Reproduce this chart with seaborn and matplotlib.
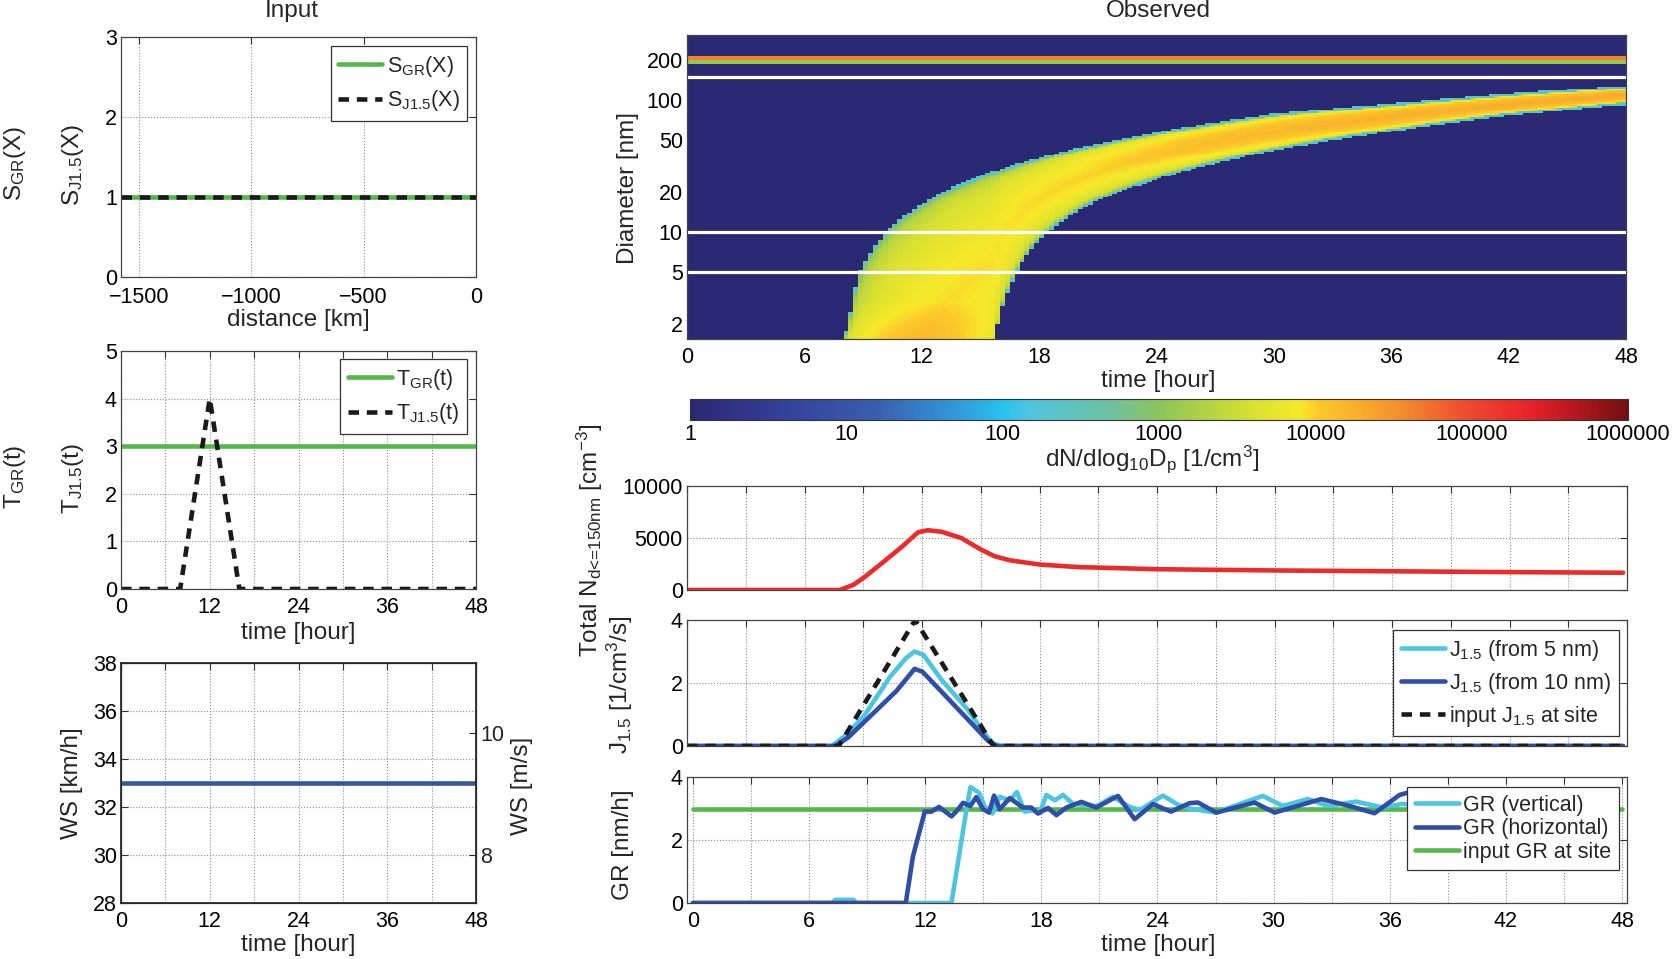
import numpy as np
import matplotlib
matplotlib.use('Agg')
import matplotlib.pyplot as plt
import seaborn as sns
from matplotlib.colors import LinearSegmentedColormap, LogNorm
from matplotlib.ticker import LogLocator, NullFormatter

# ---------------- values ----------------
# Input panels
dist_km = [-1580, 0]
s_gr = [1, 1]
s_j15 = [1, 1]

tj_hours = [0, 8, 12, 16, 48]
tj_vals = [0, 0, 4, 0, 0]
tgr_hours = [0, 48]
tgr_vals = [3, 3]

ws_hours = [0, 48]
ws_kmh = [33, 33]

# Observed: total number (d <= 150 nm)
totn_t = [0, 7.8, 8.5, 9.0, 10.0, 11.0, 11.8, 12.3, 13.0, 14.0, 15.0, 15.7,
          16.5, 18.0, 20.0, 24.0, 30.0, 36.0, 42.0, 47.8]
totn = [0, 0, 500, 1150, 2650, 4200, 5550, 5750, 5600, 5000, 3900, 3250,
        2850, 2450, 2200, 2000, 1880, 1800, 1720, 1660]

# Observed: J1.5
jin_t = [0, 7.75, 11.65, 15.65, 47.8]
jin = [0, 0, 4, 0, 0]
j5_t = [0, 7.4, 8.07, 9.05, 10.37, 11.2, 11.62, 12.08, 13.0, 14.3, 15.15, 15.57, 15.97, 47.8]
j5 = [0, 0, 0.32, 0.96, 2.2, 2.8, 3.0, 2.89, 2.1, 1.18, 0.43, 0.11, 0, 0]
j10_t = [0, 7.57, 8.23, 9.38, 10.7, 11.62, 12.02, 13.34, 14.65, 15.38, 15.8, 47.8]
j10 = [0, 0, 0.27, 0.96, 1.75, 2.45, 2.36, 1.5, 0.64, 0.16, 0, 0]

# Observed: growth rates
grv_t = [0, 7.2, 7.35, 8.3, 8.45, 13.36, 14.13, 14.34, 14.78, 15.07, 15.47, 15.85,
         16.37, 16.74, 17.14, 17.66, 17.92, 18.26, 18.7, 19.12, 19.63, 20.84, 21.7,
         22.56, 23.08, 24.28, 25.06, 25.66, 27.0, 29.44, 30.47, 31.77, 32.8, 34.26,
         35.64, 36.67, 37.2]
grv = [0, 0, 0.1, 0.1, 0, 0, 2.95, 3.68, 3.5, 3.07, 2.84, 3.37,
       3.26, 3.52, 2.9, 2.95, 2.87, 3.43, 3.26, 3.43, 3.15, 3.07, 3.37,
       3.05, 2.95, 3.41, 3.12, 3.0, 2.87, 3.4, 3.08, 3.3, 3.08, 3.22,
       3.03, 3.15, 3.1]
grh_t = [0, 11.0, 11.37, 11.98, 12.32, 12.72, 13.36, 13.6, 13.96, 14.33, 14.64,
         14.99, 15.3, 15.56, 15.85, 16.37, 16.71, 17.05, 17.48, 17.83, 18.34, 18.78,
         19.29, 20.07, 20.84, 21.96, 22.82, 23.76, 24.7, 25.66, 26.09, 27.04, 29.01,
         30.05, 32.46, 33.92, 35.21, 36.5, 37.2]
grh = [0, 0, 1.48, 2.9, 2.9, 3.05, 2.75, 2.9, 3.18, 3.08, 3.36,
       2.98, 2.87, 3.41, 2.98, 3.33, 3.18, 3.03, 3.03, 2.84, 3.02, 2.79,
       3.03, 3.21, 3.03, 3.4, 2.66, 3.14, 2.9, 3.17, 3.19, 2.87, 3.19,
       2.87, 3.3, 3.08, 2.85, 3.43, 3.55]
grin_t = [0, 48]
grin = [3, 3]

# Size distribution: banana edges (upper = first particles, lower = last),
# centre intensity along diameter, fringe level, background mode near 200 nm
up_t = [8.0, 8.3, 8.9, 10.3, 13.3, 18, 22.7, 30, 36, 42, 48]
up_d = [1.5, 2, 5, 10, 20, 35, 50, 75, 90, 107, 123]
lo_t = [15.7, 16.8, 18.3, 21.0, 24, 30, 36, 42, 48]
lo_d = [1.5, 5, 10, 18, 26, 43, 60, 79, 96]
amp_d = [1.5, 3, 10, 30, 100, 300]
amp_v = [15000, 9000, 8500, 10000, 20000, 22000]
fringe_v = 220
mode_lo = [190, 204]
mode_hi = [204, 216]
mode_v = [1200, 40000]
white_d = [5, 10, 150]

# ---------------- style ----------------
sns.set_theme(style='white')
plt.rcParams['font.family'] = ['Liberation Sans', 'DejaVu Sans']
plt.rcParams['mathtext.fontset'] = 'custom'
plt.rcParams['mathtext.rm'] = 'Liberation Sans'
plt.rcParams['mathtext.it'] = 'Liberation Sans'
plt.rcParams['mathtext.bf'] = 'Liberation Sans:bold'
plt.rcParams['axes.unicode_minus'] = True

TICK = 15.5
LAB = 17.5
LEG = 15.5
LW = 3.3
GREEN = '#52b848'
CYAN = '#4cc6e0'
BLUE = '#2f4ea8'
RED = '#ec2a2a'
WSBLUE = '#35599c'
BLACK = '#1a1a1a'
DASH = (0, (2.3, 1.7))

W, H = 1676, 959
fig = plt.figure(figsize=(W / 100, H / 100), dpi=100)


def rect(l, t, r, b):
    return [l / W, 1 - b / H, (r - l) / W, (b - t) / H]


def ftext(x, y, s, rot=0, size=LAB):
    fig.text(x / W, 1 - y / H, s, ha='center', va='center', rotation=rot, fontsize=size)


def style(ax, grid=True):
    ax.tick_params(direction='in', length=5, width=0.8, top=True, right=True,
                   labelsize=TICK, pad=3, colors='#333333', labelcolor='black')
    ax.tick_params(axis='x', pad=6)
    for s in ax.spines.values():
        s.set_color('#444444')
        s.set_linewidth(0.9)
        s.set_visible(True)
    if grid:
        ax.grid(True, ls=':', color='#8c8c8c', lw=0.8)
    ax.set_xlabel('')
    ax.set_ylabel('')


def legend(ax, handles, labels, right, top, spacing):
    lg = ax.legend(handles, labels, loc='upper right',
                   bbox_to_anchor=(right / W, 1 - top / H), bbox_transform=fig.transFigure,
                   frameon=True, fancybox=False, framealpha=1, edgecolor='#333333',
                   fontsize=LEG, handlelength=2.05, handletextpad=0.2,
                   labelspacing=spacing, borderpad=0.35, borderaxespad=0)
    lg.get_frame().set_linewidth(0.9)


def line(ax, x, y, color, dashed=False):
    kw = dict(linestyle=DASH) if dashed else {}
    sns.lineplot(x=x, y=y, ax=ax, color=color, lw=LW, legend=False, **kw)
    return ax.lines[-1]


def time_ticks(ax, step, every, labels=True, xmax=48):
    ticks = list(range(0, xmax + 1, step))
    ax.set_xticks(ticks)
    if labels:
        ax.set_xticklabels([str(t) if t % every == 0 else '' for t in ticks])
    else:
        ax.set_xticklabels([])


# ---------------- left column: input ----------------
ax1 = fig.add_axes(rect(121, 37, 476, 277))
h1 = line(ax1, dist_km, s_gr, GREEN)
h2 = line(ax1, dist_km, s_j15, BLACK, dashed=True)
style(ax1)
ax1.tick_params(axis='x', pad=7.5)
ax1.set_xlim(-1580, 0)
ax1.set_ylim(0, 3)
ax1.set_xticks([-1500, -1000, -500, 0])
ax1.set_yticks([0, 1, 2, 3])
legend(ax1, [h1, h2], [r'S$_{\mathrm{GR}}$(X)', r'S$_{\mathrm{J1.5}}$(X)'], 467, 46, 0.45)

ax2 = fig.add_axes(rect(121, 351, 476, 589))
h1 = line(ax2, tgr_hours, tgr_vals, GREEN)
h2 = line(ax2, tj_hours, tj_vals, BLACK, dashed=True)
style(ax2)
ax2.set_xlim(0, 48)
ax2.set_ylim(0, 5)
time_ticks(ax2, 6, 12)
ax2.set_yticks(range(6))
legend(ax2, [h1, h2], [r'T$_{\mathrm{GR}}$(t)', r'T$_{\mathrm{J1.5}}$(t)'], 467, 359, 0.45)

ax3 = fig.add_axes(rect(121, 663, 476, 903))
line(ax3, ws_hours, ws_kmh, WSBLUE)
style(ax3)
ax3.tick_params(right=False)
ax3.set_xlim(0, 48)
ax3.set_ylim(28, 38)
time_ticks(ax3, 6, 12)
ax3.set_yticks(range(28, 39, 2))
ax3r = ax3.twinx()
ax3r.set_ylim(7.21, 11.15)
ax3r.set_yticks([8, 10])
ax3r.tick_params(direction='in', length=5, width=0.8, labelsize=TICK, pad=3)
ax3r.grid(False)

ftext(292, 11, 'Input')
ftext(15, 163, r'S$_{\mathrm{GR}}$(X)', 90)
ftext(73, 165, r'S$_{\mathrm{J1.5}}$(X)', 90)
ftext(298, 320, 'distance [km]')
ftext(15, 477, r'T$_{\mathrm{GR}}$(t)', 90)
ftext(73, 478, r'T$_{\mathrm{J1.5}}$(t)', 90)
ftext(298, 633, 'time [hour]')
ftext(72, 783, 'WS [km/h]', 90)
ftext(522, 786, 'WS [m/s]', 90)
ftext(298, 945, 'time [hour]')

# ---------------- right column: observed ----------------
nodes = [(0.00, '#2b2973'), (0.10, '#33409a'), (0.20, '#3a5fb0'), (0.30, '#2fa6e0'),
         (0.333, '#28c2f0'), (0.36, '#4ec4e0'), (0.45, '#6fc0a0'), (0.50, '#8cc45a'),
         (0.60, '#d8e030'), (0.65, '#f7e92a'), (0.67, '#fcc92a'), (0.75, '#f4952e'),
         (0.83, '#ee4a30'), (0.90, '#e6202a'), (1.00, '#741010')]
cmap = LinearSegmentedColormap.from_list('obs', nodes)
norm = LogNorm(1, 1e6)

t_edges = np.arange(0, 48.01, 0.25)
d_edges = np.logspace(np.log10(1.5), np.log10(310), 161)
tc = (t_edges[:-1] + t_edges[1:]) / 2
dc = np.sqrt(d_edges[:-1] * d_edges[1:])
T, D = np.meshgrid(tc, dc)
log_up = np.log10(np.interp(T, up_t, up_d))
log_lo = np.log10(np.interp(T, lo_t, lo_d))
span = np.maximum(log_up - log_lo, 1e-6)
p = (np.log10(D) - log_lo) / span
inside = (p >= 0) & (p <= 1) & (T >= up_t[0])
t_first = tj_hours[1]
t_last = np.minimum(T, tj_hours[3])
t_form = t_last - np.clip(p, 0, 1) * (t_last - t_first)
frac = np.interp(t_form, tj_hours, tj_vals) / max(tj_vals)
amp = np.interp(np.log10(D), np.log10(amp_d), amp_v)
Z = np.where(inside, np.sqrt(frac) * amp, 1.0)
# one-cell light blue fringe around the band
dlog = np.log10(d_edges[1] / d_edges[0])
near = ((np.abs(np.log10(D) - log_up) < 1.3 * dlog) |
        ((np.abs(np.log10(D) - log_lo) < 1.3 * dlog) & (T > tj_hours[3]))) & (T >= up_t[0])
Z[near & (Z < fringe_v)] = fringe_v
Z[~inside & ~near] = 1
for lo, hi, v in zip(mode_lo, mode_hi, mode_v):
    Z[(dc >= lo) & (dc < hi), :] = v

axh = fig.add_axes(rect(687, 35, 1626, 339))
mesh = axh.pcolormesh(t_edges, d_edges, Z, cmap=cmap, norm=norm, shading='flat')
for d in white_d:
    axh.axhline(d, color='white', lw=2.3)
axh.set_yscale('log')
axh.set_ylim(1.55, 310)
axh.set_xlim(0, 48)
style(axh, grid=False)
axh.set_yticks([2, 5, 10, 20, 50, 100, 200])
axh.set_yticklabels(['2', '5', '10', '20', '50', '100', '200'])
axh.yaxis.set_minor_locator(LogLocator(base=10, subs=np.arange(2, 10)))
axh.yaxis.set_minor_formatter(NullFormatter())
axh.tick_params(which='minor', direction='in', length=3, right=True, left=True)
time_ticks(axh, 3, 6)

cax = fig.add_axes(rect(690, 399, 1628, 420))
cb = fig.colorbar(mesh, cax=cax, orientation='horizontal')
cb.set_ticks([1, 10, 100, 1000, 10000, 100000, 1000000])
cb.set_ticklabels(['1', '10', '100', '1000', '10000', '100000', '1000000'])
cb.minorticks_off()
cax.tick_params(direction='in', length=15, width=0.7, colors='#333333',
                labelcolor='black', labelsize=TICK, pad=3)
cb.outline.set_linewidth(0.8)
cb.outline.set_edgecolor('#333333')

axn = fig.add_axes(rect(687, 486, 1627, 590))
line(axn, totn_t, totn, RED)
style(axn)
axn.set_xlim(0, 48)
axn.set_ylim(0, 10000)
axn.set_yticks([0, 5000, 10000])
time_ticks(axn, 3, 6, labels=False)

axj = fig.add_axes(rect(687, 620, 1627, 746))
h1 = line(axj, j5_t, j5, CYAN)
h2 = line(axj, j10_t, j10, BLUE)
h3 = line(axj, jin_t, jin, BLACK, dashed=True)
style(axj)
axj.set_xlim(0, 48)
axj.set_ylim(0, 4)
axj.set_yticks([0, 2, 4])
time_ticks(axj, 3, 6, labels=False)
legend(axj, [h1, h2, h3],
       [r'J$_{1.5}$ (from 5 nm)', r'J$_{1.5}$ (from 10 nm)', r'input J$_{1.5}$ at site'],
       1619, 630, 0.38)

axg = fig.add_axes(rect(687, 777, 1627, 903))
h3 = line(axg, grin_t, grin, GREEN)
h1 = line(axg, grv_t, grv, CYAN)
h2 = line(axg, grh_t, grh, BLUE)
style(axg)
axg.set_xlim(-0.3, 48.25)
axg.set_ylim(0, 4)
axg.set_yticks([0, 2, 4])
time_ticks(axg, 3, 6)
legend(axg, [h1, h2, h3], ['GR (vertical)', 'GR (horizontal)', 'input GR at site'],
       1619, 787, 0.12)

ftext(1158, 11, 'Observed')
ftext(628, 188, 'Diameter [nm]', 90)
ftext(1158, 381, 'time [hour]')
ftext(1152, 459, r'dN/dlog$_{\mathrm{10}}$D$_{\mathrm{p}}$ [1/cm$^{\mathrm{3}}$]')
ftext(590, 540, r'Total N$_{\text{d<=150nm}}$ [cm$^{-3}$]', 90)
ftext(620, 685, r'J$_{\mathrm{1.5}}$ [1/cm$^{\mathrm{3}}$/s]', 90)
ftext(623, 845, 'GR [nm/h]', 90)
ftext(1158, 945, 'time [hour]')

fig.savefig('out.png', dpi=100)
